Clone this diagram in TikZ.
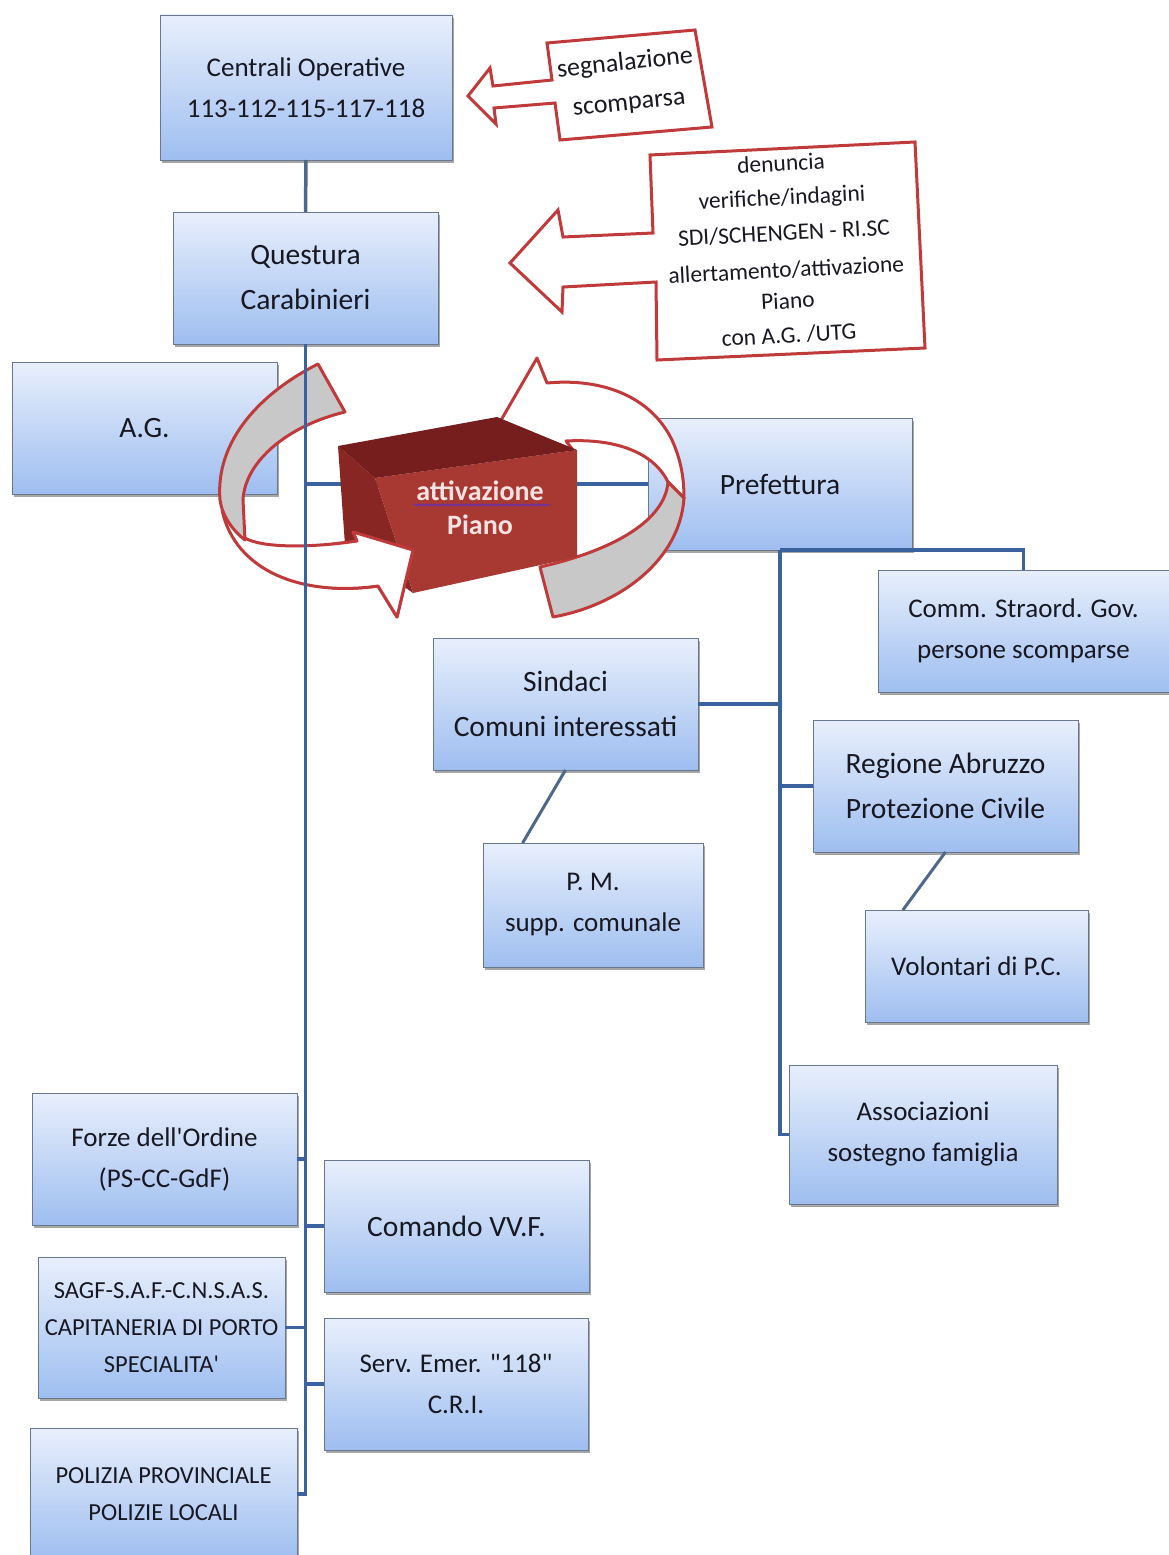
\documentclass[tikz,border=0pt]{standalone}
\usepackage{fontspec}
\setmainfont{Carlito}
\usetikzlibrary{shadows,calc,decorations.pathmorphing}
\definecolor{boxtop}{RGB}{232,239,252}
\definecolor{boxbot}{RGB}{158,190,240}
\definecolor{boxline}{RGB}{105,120,140}
\definecolor{conncol}{RGB}{58,98,158}
\definecolor{conngray}{RGB}{78,104,138}
\definecolor{redline}{RGB}{192,58,60}
\definecolor{bandgray}{RGB}{200,200,200}
\definecolor{txt}{RGB}{24,24,34}
\definecolor{cubetop}{RGB}{118,30,30}
\definecolor{cubefront}{RGB}{168,56,50}
\definecolor{cubeside}{RGB}{136,38,36}
\definecolor{cubetext}{RGB}{246,226,226}
\definecolor{wavy}{RGB}{90,50,200}
\tikzset{
 orgbox/.style={draw=boxline, line width=0.8pt, top color=boxtop, bottom color=boxbot,
   drop shadow={shadow xshift=2pt, shadow yshift=-3pt, fill=black, opacity=0.35},
   inner sep=0pt, outer sep=0pt, align=center, text=txt},
 fa/.style={font=\fontsize{27}{41}\selectfont},
 fb/.style={font=\fontsize{29.5}{45}\selectfont},
 fc/.style={font=\fontsize{24.5}{37}\selectfont},
 conn/.style={draw=conncol, line width=3.5pt, line join=miter},
 diag/.style={draw=conngray, line width=3pt},
 callout/.style={draw=redline, line width=3pt, fill=white, line join=miter},
 ribbonw/.style={draw=redline, line width=3pt, fill=white, line join=round},
 ribbong/.style={draw=redline, line width=3pt, fill=bandgray, line join=round},
 calltext/.style={text=txt, font=\fontsize{23.5}{31}\selectfont, inner sep=0pt, rotate=3, align=center},
}
\begin{document}
\begin{tikzpicture}[x=1pt,y=-1pt]
\useasboundingbox[fill=white] (0,0) rectangle (1169,1555);

% ---------- organisation boxes ----------
\node[orgbox, fa, minimum width=292, minimum height=145] (cent) at (306,87.5) {Centrali Operative\\113-112-115-117-118};
\node[orgbox, fb, minimum width=265, minimum height=132] (ques) at (305.5,278) {Questura\\Carabinieri};
\node[orgbox, fb, minimum width=265, minimum height=132] (ag) at (144.5,428) {A.G.};
\node[orgbox, fb, minimum width=264, minimum height=132] (pref) at (780,484) {Prefettura};
\node[orgbox, fa, minimum width=291, minimum height=122] (comm) at (1023.5,631) {Comm. Straord. Gov.\\persone scomparse};
\node[orgbox, fb, minimum width=265, minimum height=132] (sind) at (565.5,704) {Sindaci\\Comuni interessati};
\node[orgbox, fb, minimum width=265, minimum height=132] (reg) at (945.5,786) {Regione Abruzzo\\Protezione Civile};
\node[orgbox, fa, minimum width=220, minimum height=124] (pm) at (593,905) {P. M.\\supp. comunale};
\node[orgbox, fa, minimum width=223, minimum height=112] (vol) at (976.5,966) {Volontari di P.C.};
\node[orgbox, fa, minimum width=268, minimum height=139] (assoc) at (923,1134.5) {Associazioni\\sostegno famiglia};
\node[orgbox, fa, minimum width=265, minimum height=132] (forze) at (164.5,1159) {Forze dell\textquotesingle Ordine\\(PS-CC-GdF)};
\node[orgbox, fb, minimum width=265, minimum height=132] (vvf) at (456.5,1226) {Comando VV.F.};
\node[orgbox, fc, minimum width=247, minimum height=141] (sagf) at (161.5,1327.5) {SAGF-S.A.F.-C.N.S.A.S.\\CAPITANERIA DI PORTO\\SPECIALITA\textquotesingle};
\node[orgbox, fa, minimum width=264, minimum height=132] (serv) at (456,1384) {Serv. Emer. \textquotedbl 118\textquotedbl\\C.R.I.};
\node[orgbox, fc, minimum width=267, minimum height=132] (pol) at (163.5,1494) {POLIZIA PROVINCIALE\\POLIZIE LOCALI};

% ---------- red callout arrows ----------
\draw[callout] (547,43) -- (695,30) -- (712,127) -- (560,140) -- (555,103) -- (494,108)
  -- (496,124) -- (468,96) -- (490,68) -- (493,86) -- (552,80) -- cycle;
\node[text=txt, inner sep=0pt, rotate=6, align=center, font=\fontsize{26}{40}\selectfont] (sig) at (627,83) {segnalazione\\scomparsa};

\draw[callout] (650,155) -- (915,142) -- (925,348) -- (657,360) -- (656,282) -- (563,287)
  -- (562,312) -- (510,263) -- (558,210) -- (563,237) -- (653,233) -- cycle;
\node[calltext] (t1) at (781,163) {denuncia};
\node[calltext] (t2) at (782,199) {verifiche/indagini};
\node[calltext] (t3) at (784,233) {SDI/SCHENGEN - RI.SC};
\node[calltext] (t4) at (787,285) {allertamento/attivazione\\Piano};
\node[calltext] (t6) at (789,335) {con A.G. /UTG};

% ---------- circular ribbon arrows ----------
% right arrow
\draw[ribbonw] (537,358) -- (547,383) .. controls (600,378) and (650,395) .. (672,440)
  .. controls (680,458) and (684,475) .. (684,498) -- (668,482)
  .. controls (655,455) and (620,438) .. (566,441) -- (573,450) -- (500,422) -- cycle;
\draw[ribbong] (540,567) -- (553,617) .. controls (620,605) and (680,560) .. (684,498)
  -- (668,482) .. controls (665,520) and (615,550) .. (540,567) -- cycle;
% left arrow
\draw[ribbonw] (222,510) .. controls (235,570) and (300,597) .. (378,586) -- (397,617)
  -- (413,550) -- (353,532) -- (357,541) .. controls (310,548) and (262,548) .. (245,538)
  .. controls (235,530) and (226,520) .. (222,510) -- cycle;
\draw[ribbong] (318,364) .. controls (262,392) and (215,440) .. (220,500)
  .. controls (222,515) and (232,530) .. (245,540) -- (243,500)
  .. controls (245,460) and (290,425) .. (345,412) -- cycle;

% ---------- connectors ----------
\draw[conn, draw=conngray] (cent.south) -- (ques.north);
\draw[conn] (ques.south) -- (ques.south |- pol.east) -- (pol.east);
\draw[conn] (forze.east) -- (ques.south |- forze.east);
\draw[conn] (vvf.west) -- (ques.south |- vvf.west);
\draw[conn] (sagf.east) -- (ques.south |- sagf.east);
\draw[conn] (serv.west) -- (ques.south |- serv.west);
\draw[conn] (ques.south |- pref.west) -- (pref.west);
\draw[conn] (pref.south) -- (pref.south |- assoc.west) -- (assoc.west);
\draw[conn] (pref.south) -- (pref.south -| comm.north) -- (comm.north);
\draw[conn] (sind.east) -- (pref.south |- sind.east);
\draw[conn] (reg.west) -- (pref.south |- reg.west);
\draw[diag] (sind.south) -- ($(pm.north west)!0.18!(pm.north east)$);
\draw[diag] (reg.south) -- ($(vol.north west)!0.17!(vol.north east)$);

% ---------- 3D block ----------
\fill[cubeside] (338,446) -- (375,478) -- (413,593) -- (345,545) -- cycle;
\fill[cubefront] (375,478) -- (577,450) -- (577,557) -- (413,593) -- cycle;
\fill[cubetop] (338,446) -- (497,417) -- (577,450) -- (375,478) -- cycle;
\node[text=cubetext, align=center, inner sep=0pt, font=\fontsize{28}{34}\selectfont\bfseries] (act) at (480,508) {attivazione\\Piano};
\draw[wavy, line width=1pt, decorate, decoration={snake, amplitude=1pt, segment length=4pt}] (414,505) -- (550,505);

% left arrow head in front of the block
\begin{scope}
\clip (332,500) rectangle (440,640);
\draw[ribbonw] (222,510) .. controls (235,570) and (300,597) .. (378,586) -- (397,617)
  -- (413,550) -- (353,532) -- (357,541) .. controls (310,548) and (262,548) .. (245,538)
  .. controls (235,530) and (226,520) .. (222,510) -- cycle;
\end{scope}
\end{tikzpicture}
\end{document}
